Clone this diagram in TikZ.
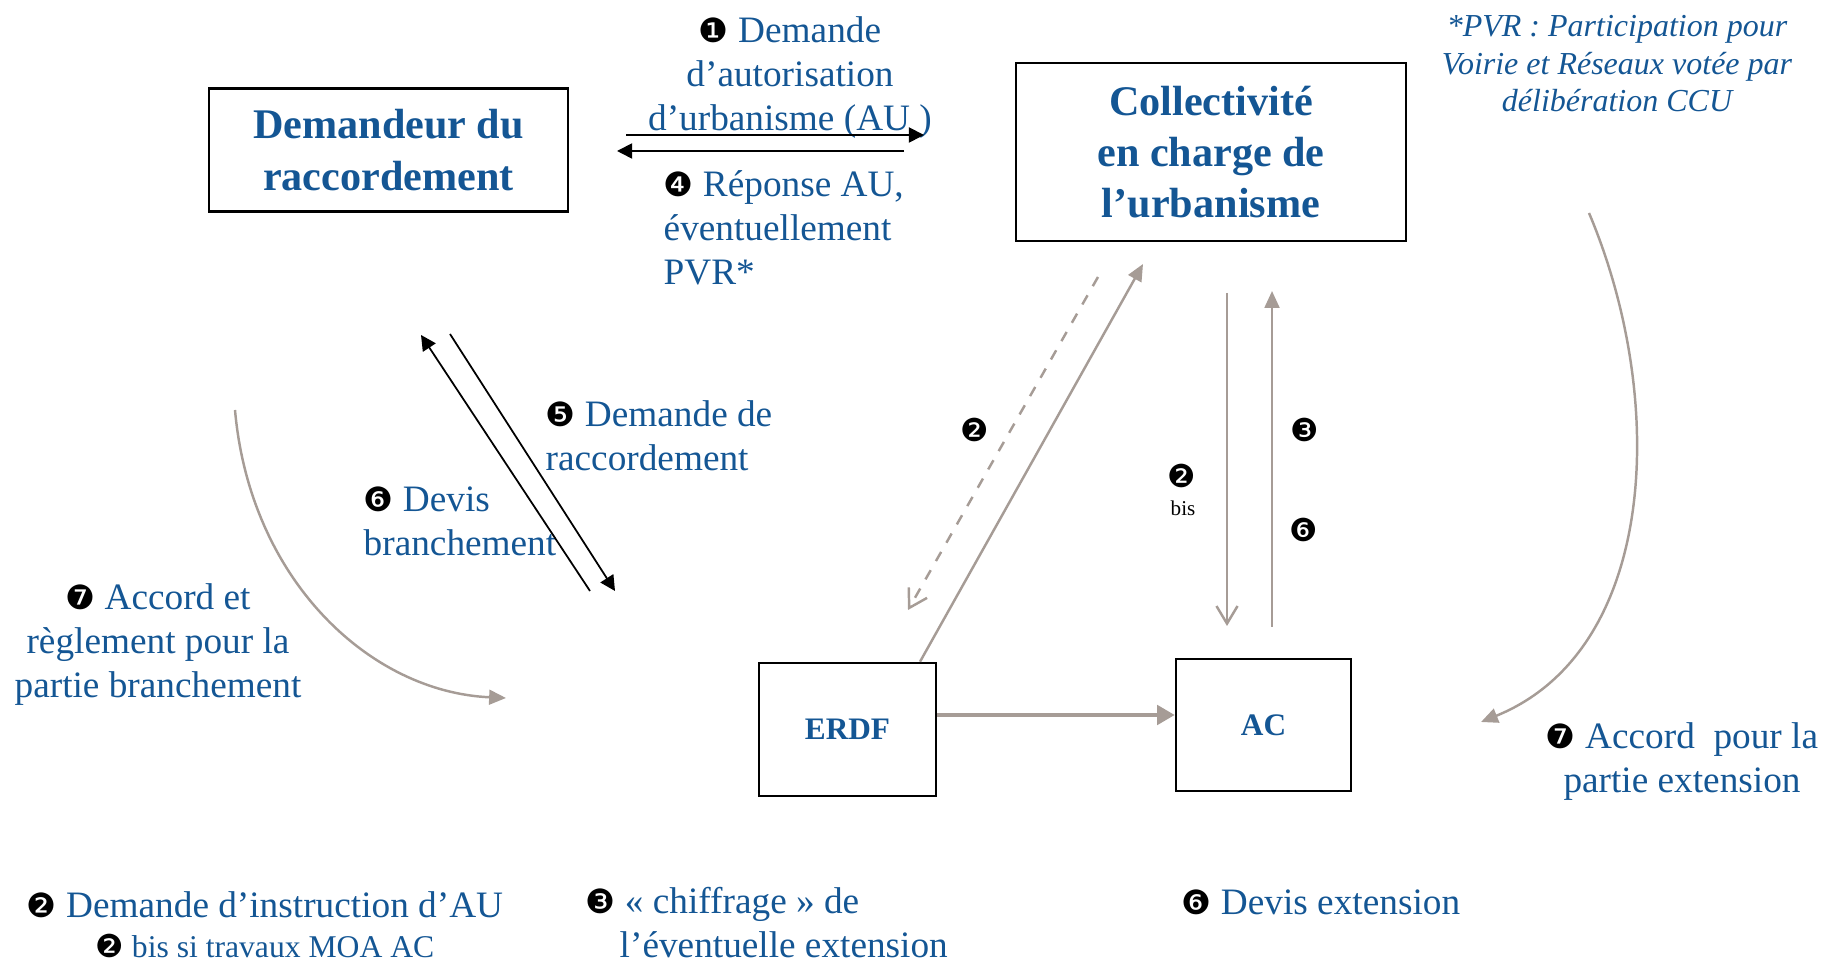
\documentclass[tikz,border=0pt]{standalone}
\usepackage{fontspec}
\setmainfont{Liberation Serif}
\newfontfamily\dingfont{DejaVu Sans}
\usetikzlibrary{arrows.meta}
\definecolor{txtblue}{RGB}{20,86,148}
\definecolor{taupe}{RGB}{166,156,150}
\newcommand\dgi[1]{{\color{black}\dingfont\fontsize{9.5}{9.5}\selectfont #1}}
\newcommand\dgs[1]{{\color{black}\dingfont\fontsize{9}{9}\selectfont #1}}
\begin{document}
\begin{tikzpicture}[x=0.01cm,y=-0.01cm,
  box/.style={draw=black,line width=0.7pt,inner sep=0pt,text=txtblue,align=center},
  bigbox/.style={box,font=\bfseries\fontsize{12}{14.6}\selectfont},
  smallbox/.style={box,font=\bfseries\fontsize{8.9}{10}\selectfont},
  lbl/.style={text=txtblue,font=\fontsize{10.6}{12.6}\selectfont,inner sep=0pt},
  foot/.style={text=txtblue,font=\itshape\fontsize{9.1}{10.8}\selectfont,inner sep=0pt,align=center},
  num/.style={inner sep=0pt},
  blk/.style={draw=black,line width=0.5pt,-{Triangle[length=4.3pt,width=4.3pt]}},
  grey/.style={draw=taupe,line width=0.7pt,-{Triangle[length=4.8pt,width=4.2pt]}},
  greythick/.style={draw=taupe,line width=1.1pt,-{Triangle[length=5pt,width=5.5pt]}},
  greyopen/.style={draw=taupe,line width=0.7pt,-{Straight Barb[length=5pt,width=6pt]}},
]
\useasboundingbox (0,0) rectangle (1825,962);

% boxes
\node[bigbox,minimum width=3.59cm,minimum height=1.23cm] (dem) at (388.5,150) {Demandeur du\\raccordement};
\node[bigbox,minimum width=3.90cm,minimum height=1.78cm] (coll) at (1211,152) {Collectivité\\en charge de\\l’urbanisme};
\node[smallbox,minimum width=1.77cm,minimum height=1.33cm] (erdf) at (847.5,729.5) {ERDF};
\node[smallbox,minimum width=1.75cm,minimum height=1.32cm] (ac) at (1263.5,725) {AC};

% top arrows
\coordinate (a1s) at (626,135); \coordinate (a1e) at (924,135);
\coordinate (a4s) at (904,151); \coordinate (a4e) at (617,151);
\node[lbl,align=center,anchor=base] (t1) at (790,131) {\dgi{❶} Demande\\d’autorisation\\d’urbanisme (AU )};
\node[lbl,align=left,anchor=base west] (t4) at (663,285) {\dgi{❹} Réponse AU,\\éventuellement\\PVR*};
\draw[blk] (a1s) -- (a1e);
\draw[blk] (a4s) -- (a4e);

% footnote
\node[foot,anchor=base] (fn) at (1617,112) {*PVR : Participation pour\\Voirie et Réseaux votée par\\délibération CCU};

% steps 5 / 6 arrows
\coordinate (a6s) at (590,591); \coordinate (a6e) at (421,335);
\coordinate (a5s) at (450,334); \coordinate (a5e) at (615,591);
\node[lbl,align=left,anchor=base west] (t5) at (545,471) {\dgi{❺} Demande de\\raccordement};
\node[lbl,align=left,anchor=base west] (t6) at (363,556) {\dgi{❻} Devis\\branchement};
\draw[blk] (a6s) -- (a6e);
\draw[blk] (a5s) -- (a5e);

% step 7 left curve
\coordinate (cl1) at (235,410); \coordinate (cl2) at (506,698);
\draw[grey] (cl1) .. controls (250,580) and (370,692) .. (cl2);
\node[lbl,align=center,anchor=base] (t7l) at (158,698) {\dgi{❼} Accord et\\règlement pour la\\partie branchement};

% ERDF <-> collectivite
\coordinate (dash1) at (1098,277); \coordinate (dash2) at (908,610);
\coordinate (s2top) at (1143,264);
\draw[greyopen,dashed] (dash1) -- (dash2);
\draw[grey] (erdf.north -| 920,0) -- (s2top);
\node[num] (n2) at (975,430) {\dgs{❷}};

% collectivite <-> AC
\coordinate (v1s) at (1227,293); \coordinate (v1e) at (1227,626);
\coordinate (v2s) at (1272,627); \coordinate (v2e) at (1272,291);
\draw[greyopen] (v1s) -- (v1e);
\draw[grey] (v2s) -- (v2e);
\node[num] (n2b) at (1182,476) {\dgs{❷}};
\node[num,font=\fontsize{6}{6}\selectfont] (bis) at (1183,508) {bis};
\node[num] (n3) at (1305,430) {\dgs{❸}};
\node[num] (n6) at (1304,530) {\dgs{❻}};

% ERDF -> AC
\draw[greythick] (erdf.east |- 0,715) -- (ac.west |- 0,715);

% step 7 right curve
\coordinate (cr1) at (1589,213); \coordinate (cr2) at (1481,722);
\draw[grey] (cr1) .. controls (1668,400) and (1658,650) .. (cr2);
\node[lbl,align=center,anchor=base] (t7r) at (1682,793) {\dgi{❼} Accord\ \ pour la\\partie extension};

% bottom legend
\node[lbl,anchor=base] (b2) at (265,918) {\dgi{❷} Demande d’instruction d’AU};
\node[lbl,anchor=base,font=\fontsize{9}{10}\selectfont] (b2b) at (265,958) {\dgs{❷} bis si travaux MOA AC};
\node[lbl,align=left,anchor=base west] (b3) at (585,958) {\dgi{❸} « chiffrage » de\\\hspace*{0.34cm}l’éventuelle extension};
\node[lbl,anchor=base west] (b6) at (1181,914) {\dgi{❻} Devis extension};
\end{tikzpicture}
\end{document}
